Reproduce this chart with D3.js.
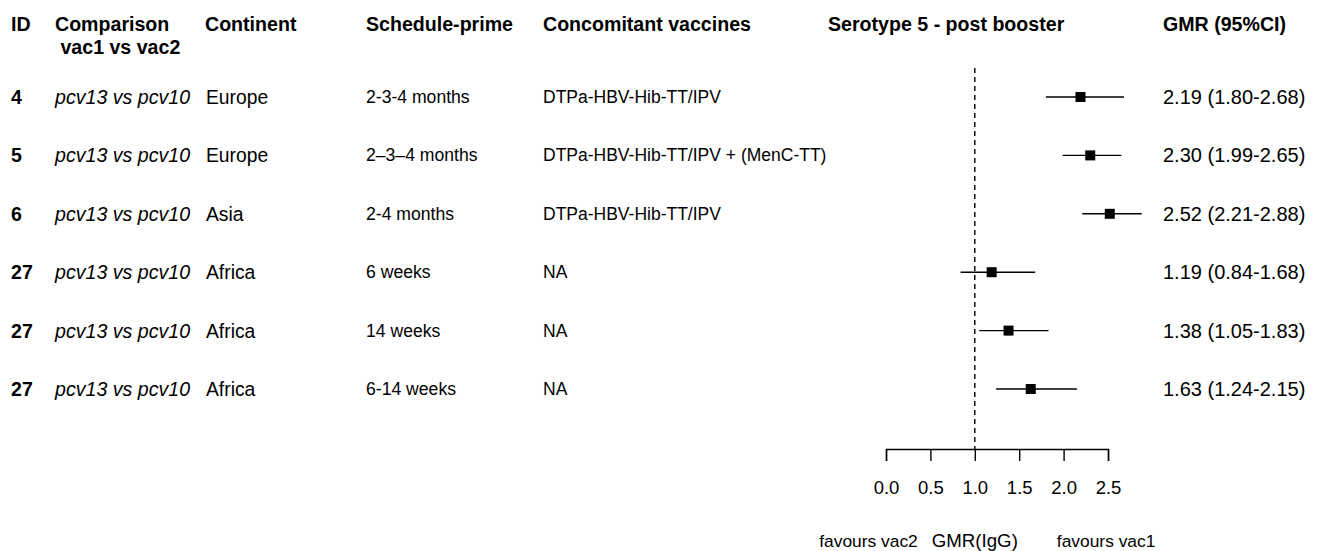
<!DOCTYPE html>
<html>
<head>
<meta charset="utf-8">
<script src="https://cdn.jsdelivr.net/npm/d3@7"></script>
<style>
  html, body { margin: 0; padding: 0; background: #fff; }
  svg { display: block; font-family: "Liberation Sans", Arial, sans-serif; }
</style>
</head>
<body>
<svg id="chart" width="1320" height="551"></svg>
<script>
// Study rows
const ids = ["4", "5", "6", "27", "27", "27"];
const comparisons = ["pcv13 vs pcv10", "pcv13 vs pcv10", "pcv13 vs pcv10", "pcv13 vs pcv10", "pcv13 vs pcv10", "pcv13 vs pcv10"];
const continents = ["Europe", "Europe", "Asia", "Africa", "Africa", "Africa"];
const schedules = ["2-3-4 months", "2\u20133\u20134 months", "2-4 months", "6 weeks", "14 weeks", "6-14 weeks"];
const vaccines = ["DTPa-HBV-Hib-TT/IPV", "DTPa-HBV-Hib-TT/IPV + (MenC-TT)", "DTPa-HBV-Hib-TT/IPV", "NA", "NA", "NA"];

// Geometric mean ratios with 95% CI
const gmr = [2.19, 2.30, 2.52, 1.19, 1.38, 1.63];
const lower = [1.80, 1.99, 2.21, 0.84, 1.05, 1.24];
const upper = [2.68, 2.65, 2.88, 1.68, 1.83, 2.15];

// Axis ticks
const ticks = [0.0, 0.5, 1.0, 1.5, 2.0, 2.5];
const refValue = 1.0;

const svg = d3.select("#chart");

const x = d3.scaleLinear().domain([0, 2.5]).range([886, 1108]);
const y = d3.scalePoint().domain(d3.range(ids.length)).range([97, 389]);
const axisY = 449;

// Column headers
const headers = [
  { x: 11, lines: ["ID"] },
  { x: 55, lines: ["Comparison", " vac1 vs vac2"] },
  { x: 205, lines: ["Continent"] },
  { x: 366, lines: ["Schedule-prime"] },
  { x: 543, lines: ["Concomitant vaccines"] },
  { x: 828, lines: ["Serotype 5 - post booster"] },
  { x: 1163, lines: ["GMR (95%CI)"] }
];
headers.forEach(h => {
  const t = svg.append("text")
    .attr("x", h.x).attr("y", 31)
    .attr("font-size", 19.6).attr("font-weight", "bold")
    .attr("fill", "#000")
    .style("white-space", "pre");
  h.lines.forEach((line, i) => {
    t.append("tspan").attr("x", h.x).attr("dy", i === 0 ? 0 : 23).text(line);
  });
});

// Table body
const rows = svg.append("g").selectAll("g.row")
  .data(d3.range(ids.length)).join("g").attr("class", "row");

const base = i => y(i) + 7;
rows.append("text").attr("x", 11).attr("y", base)
  .attr("font-size", 19.6).attr("font-weight", "bold").text(i => ids[i]);
rows.append("text").attr("x", 55).attr("y", base)
  .attr("font-size", 19.6).attr("font-style", "italic").text(i => comparisons[i]);
rows.append("text").attr("x", 206).attr("y", base)
  .attr("font-size", 19.3).text(i => continents[i]);
rows.append("text").attr("x", 366).attr("y", i => y(i) + 6)
  .attr("font-size", 17.6).text(i => schedules[i]);
rows.append("text").attr("x", 543).attr("y", i => y(i) + 6)
  .attr("font-size", 17.5).text(i => vaccines[i]);
rows.append("text").attr("x", 1163).attr("y", base)
  .attr("font-size", 20)
  .text(i => `${gmr[i].toFixed(2)} (${lower[i].toFixed(2)}-${upper[i].toFixed(2)})`);

// Reference line at GMR = 1
svg.append("line")
  .attr("x1", x(refValue)).attr("x2", x(refValue))
  .attr("y1", 68).attr("y2", axisY)
  .attr("stroke", "#000").attr("stroke-width", 1.4)
  .attr("stroke-dasharray", "5,4");

// Confidence intervals and point estimates
rows.append("line")
  .attr("x1", i => x(lower[i])).attr("x2", i => x(upper[i]))
  .attr("y1", y).attr("y2", y)
  .attr("stroke", "#000").attr("stroke-width", 1.4);
const sq = 10;
rows.append("rect")
  .attr("x", i => x(gmr[i]) - sq / 2).attr("y", i => y(i) - sq / 2)
  .attr("width", sq).attr("height", sq).attr("fill", "#000");

// Bottom axis
const axis = d3.axisBottom(x)
  .tickValues(ticks)
  .tickFormat(d3.format(".1f"))
  .tickSize(12)
  .tickPadding(20);
const ax = svg.append("g").attr("transform", `translate(0,${axisY})`).call(axis);
ax.selectAll("path, line").attr("stroke", "#000").attr("stroke-width", 1.4);
ax.selectAll("text").attr("font-size", 18.5)
  .attr("font-family", "Liberation Sans, Arial, sans-serif").attr("fill", "#000");

// Axis captions
svg.append("text").attr("x", x(refValue)).attr("y", 547)
  .attr("text-anchor", "middle").attr("font-size", 18.7).text("GMR(IgG)");
svg.append("text").attr("x", x(refValue) - 57).attr("y", 547)
  .attr("text-anchor", "end").attr("font-size", 17.4).text("favours vac2");
svg.append("text").attr("x", x(refValue) + 82).attr("y", 547)
  .attr("text-anchor", "start").attr("font-size", 17.4).text("favours vac1");
</script>
</body>
</html>
